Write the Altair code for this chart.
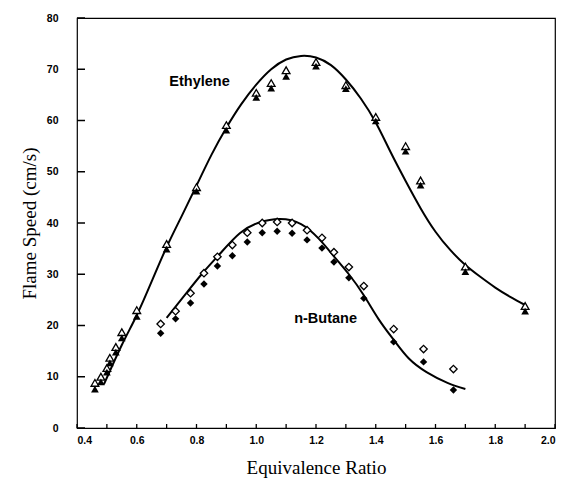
import altair as alt
import pandas as pd

# Ethylene measured points
eth_x = [0.46, 0.48, 0.50, 0.51, 0.53, 0.55, 0.60, 0.70, 0.80, 0.90, 1.00, 1.05, 1.10, 1.20, 1.30, 1.40, 1.50, 1.55, 1.70, 1.90]
eth_open = [8.8, 10.0, 11.7, 13.7, 15.8, 18.7, 23.0, 35.9, 47.0, 59.1, 65.4, 67.3, 69.8, 71.4, 66.9, 60.7, 55.0, 48.3, 31.5, 23.8]
eth_fill = [7.6, 9.0, 10.9, 12.7, 14.8, 17.6, 21.8, 34.9, 46.2, 58.1, 64.5, 66.3, 68.6, 70.6, 66.2, 59.9, 54.0, 47.4, 30.5, 22.8]

# n-Butane measured points
but_x = [0.68, 0.73, 0.78, 0.825, 0.87, 0.92, 0.97, 1.02, 1.07, 1.12, 1.17, 1.22, 1.26, 1.31, 1.36, 1.46, 1.56, 1.66]
but_open = [20.3, 22.8, 26.3, 30.2, 33.4, 35.7, 38.1, 40.0, 40.2, 40.0, 38.6, 37.1, 34.3, 31.4, 27.7, 19.3, 15.4, 11.5]
but_fill = [18.5, 21.3, 24.4, 28.1, 31.6, 33.6, 36.3, 38.1, 38.4, 38.0, 36.7, 35.1, 32.4, 29.3, 25.3, 16.8, 12.9, 7.4]

# Model curves
eth_cx = [0.49, 0.55, 0.60, 0.65, 0.70, 0.75, 0.80, 0.85, 0.90, 0.95, 1.00, 1.05, 1.10, 1.15, 1.20, 1.25, 1.30, 1.35, 1.40, 1.45, 1.50, 1.55, 1.60, 1.65, 1.70, 1.75, 1.80, 1.85, 1.90]
eth_cy = [8.5, 16.2, 22.0, 28.6, 35.3, 41.3, 47.3, 53.3, 58.6, 63.2, 67.0, 70.0, 71.9, 72.6, 72.3, 70.8, 68.0, 64.3, 59.6, 53.8, 48.2, 42.9, 38.3, 34.7, 31.8, 29.5, 27.4, 25.6, 24.0]
but_cx = [0.70, 0.77, 0.82, 0.88, 0.945, 1.01, 1.08, 1.15, 1.21, 1.26, 1.31, 1.36, 1.41, 1.46, 1.51, 1.57, 1.64, 1.70]
but_cy = [21.5, 26.6, 30.2, 34.1, 38.0, 40.1, 40.8, 39.8, 36.9, 33.5, 30.0, 25.9, 21.2, 17.2, 13.6, 10.9, 8.8, 7.6]

# Axis tick values
x_ticks = [0.4, 0.5, 0.6, 0.7, 0.8, 0.9, 1.0, 1.1, 1.2, 1.3, 1.4, 1.5, 1.6, 1.7, 1.8, 1.9, 2.0]
y_ticks = [0, 10, 20, 30, 40, 50, 60, 70, 80]

labels = ["Ethylene", "n-Butane"]
label_x = [0.81, 1.232]
label_y = [67.6, 21.3]

xs = alt.Scale(domain=[0.4, 2.0], nice=False, zero=False)
ys = alt.Scale(domain=[0, 80], nice=False)

xaxis = alt.Axis(
    values=x_ticks,
    labelExpr="round(datum.value*10) % 2 == 0 ? format(datum.value, '.1f') : ''",
    offset=-4, tickSize=4, tickOpacity=0, domain=False, labelPadding=7,
    labelFont="Liberation Sans", labelFontWeight="bold", labelFontSize=10.5, labelColor="black",
    title="Equivalence Ratio", titleFont="Liberation Serif", titleFontSize=19,
    titleFontWeight="normal", titlePadding=13, titleColor="black",
)
yaxis = alt.Axis(
    values=y_ticks, offset=-8, tickSize=8, tickOpacity=0, domain=False,
    labelPadding=19,
    labelFont="Liberation Sans", labelFontWeight="bold", labelFontSize=10.5, labelColor="black",
    title="Flame Speed (cm/s)", titleFont="Liberation Serif", titleFontSize=19,
    titleFontWeight="normal", titlePadding=7, titleColor="black",
)

eth_pts = pd.DataFrame({"x": eth_x, "open": eth_open, "fill": eth_fill})
but_pts = pd.DataFrame({"x": but_x, "open": but_open, "fill": but_fill})
eth_curve = pd.DataFrame({"x": eth_cx, "y": eth_cy})
but_curve = pd.DataFrame({"x": but_cx, "y": but_cy})
lab = pd.DataFrame({"t": labels, "x": label_x, "y": label_y})
xt = pd.DataFrame({"v": x_ticks})
yt = pd.DataFrame({"v": y_ticks})

l_eth = alt.Chart(eth_curve).mark_line(color="black", strokeWidth=2, interpolate="natural").encode(
    x=alt.X("x:Q", scale=xs, axis=xaxis), y=alt.Y("y:Q", scale=ys, axis=yaxis))
l_but = alt.Chart(but_curve).mark_line(color="black", strokeWidth=2, interpolate="natural").encode(
    x=alt.X("x:Q", scale=xs), y=alt.Y("y:Q", scale=ys))

tri_fill = alt.Chart(eth_pts).mark_point(shape="triangle-up", filled=True, color="black", size=60, opacity=1).encode(
    x=alt.X("x:Q", scale=xs), y=alt.Y("fill:Q", scale=ys))
tri_open = alt.Chart(eth_pts).mark_point(shape="triangle-up", filled=True, fill="white", stroke="black", strokeWidth=1.3, size=60, opacity=1).encode(
    x=alt.X("x:Q", scale=xs), y=alt.Y("open:Q", scale=ys))
dia_open = alt.Chart(but_pts).mark_point(shape="diamond", filled=True, fill="white", stroke="black", strokeWidth=1.3, size=55, opacity=1).encode(
    x=alt.X("x:Q", scale=xs), y=alt.Y("open:Q", scale=ys))
dia_fill = alt.Chart(but_pts).mark_point(shape="diamond", filled=True, color="black", size=55, opacity=1).encode(
    x=alt.X("x:Q", scale=xs), y=alt.Y("fill:Q", scale=ys))

ytick_marks = alt.Chart(yt).mark_tick(orient="horizontal", color="black", size=8, thickness=1.5, opacity=1).encode(
    y=alt.Y("v:Q", scale=ys), x=alt.value(4))
xtick_marks = alt.Chart(xt).mark_tick(orient="vertical", color="black", size=4, thickness=1.3, opacity=1).encode(
    x=alt.X("v:Q", scale=xs), y=alt.value(408))

txt = alt.Chart(lab).mark_text(font="Liberation Sans", fontWeight="bold", fontSize=14.5, color="black").encode(
    x=alt.X("x:Q", scale=xs), y=alt.Y("y:Q", scale=ys), text="t:N")

chart = alt.layer(l_eth, l_but, ytick_marks, xtick_marks, tri_open, tri_fill, dia_open, dia_fill, txt).properties(
    width=478, height=410, autosize="none", background="white",
    padding={"left": 69, "top": 10, "right": 3, "bottom": 53},
).configure_axis(grid=False).configure_view(stroke="black", strokeWidth=1.2)

chart.save("out.html", embed_options={"renderer": "svg", "actions": False})
